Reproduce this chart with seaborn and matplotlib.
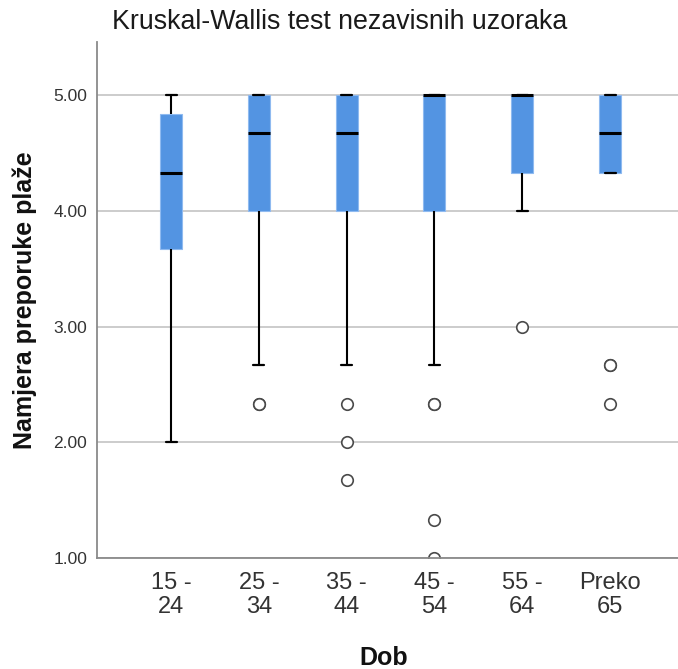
import matplotlib
matplotlib.use("Agg")
import matplotlib.pyplot as plt
import pandas as pd
import seaborn as sns

# Age groups (x categories) and the scale scores
age_groups = ["15 -\n24", "25 -\n34", "35 -\n44", "45 -\n54", "55 -\n64", "Preko\n65"]

dob_15_24 = [2.00, 3.67, 3.67, 4.33, 4.67, 5.00, 5.00]
dob_25_34 = [2.33, 2.33, 2.67, 4.00, 4.00, 4.33, 4.67, 4.67,
             5.00, 5.00, 5.00, 5.00, 5.00]
dob_35_44 = [1.67, 2.00, 2.33, 2.67, 4.00, 4.00, 4.33, 4.67, 4.67,
             5.00, 5.00, 5.00, 5.00, 5.00, 5.00, 5.00, 5.00]
dob_45_54 = [1.00, 1.33, 2.33, 2.33, 2.67, 4.00, 4.00, 4.33, 4.67, 4.67,
             5.00, 5.00, 5.00, 5.00, 5.00, 5.00, 5.00, 5.00, 5.00, 5.00, 5.00]
dob_55_64 = [3.00, 4.00, 4.33, 4.67, 5.00, 5.00, 5.00, 5.00, 5.00]
preko_65 = [2.33, 2.67, 2.67, 4.33, 4.33, 4.67, 4.67,
            5.00, 5.00, 5.00, 5.00, 5.00, 5.00]

y_ticks = [1, 2, 3, 4, 5]

groups = [dob_15_24, dob_25_34, dob_35_44, dob_45_54, dob_55_64, preko_65]
df = pd.DataFrame({
    "Dob": [g for g, vals in zip(age_groups, groups) for _ in vals],
    "Namjera": [v for vals in groups for v in vals],
})

sns.set_style("white")
plt.rcParams["font.family"] = ["Liberation Sans", "DejaVu Sans"]

fig = plt.figure(figsize=(6.78, 6.69), dpi=100)
ax = fig.add_axes([97 / 678, 1 - 558 / 669, 1 - 97 / 678, (558 - 42) / 669])

box_color = "#5394E2"
sns.boxplot(
    data=df, x="Dob", y="Namjera", order=age_groups, ax=ax,
    color=box_color, saturation=1, width=0.25, whis=1.5,
    boxprops=dict(facecolor=box_color, edgecolor="#8fbaf0", linewidth=0.8),
    medianprops=dict(color="black", linewidth=2.2),
    whiskerprops=dict(color="black", linewidth=1.5),
    capprops=dict(color="black", linewidth=1.6),
    flierprops=dict(marker="o", markerfacecolor="white",
                    markeredgecolor="#4a4a4a", markersize=8.3,
                    markeredgewidth=1.2),
)

ax.set_xlim(-0.843, 5.774)
ax.set_ylim(1.0, 5.458)
ax.set_yticks(y_ticks)
ax.set_yticklabels(["{:.2f}".format(t) for t in y_ticks])
ax.yaxis.grid(True, color="#c8c8c8", linewidth=1.3)
ax.set_axisbelow(True)

for side in ["top", "right"]:
    ax.spines[side].set_visible(False)
for side in ["left", "bottom"]:
    ax.spines[side].set_color("#8a8a8a")
    ax.spines[side].set_linewidth(1.3)

ax.tick_params(axis="y", direction="in", length=3, color="#8a8a8a",
               pad=7, labelsize=12.5, labelcolor="#333333")
ax.tick_params(axis="x", length=0, pad=10, labelsize=17, labelcolor="#333333")
for lbl in ax.get_xticklabels():
    lbl.set_linespacing(1.1)

ax.set_xlabel("")
ax.set_ylabel("")
fig.text(340 / 678, 1 - 22 / 669, "Kruskal-Wallis test nezavisnih uzoraka",
         ha="center", va="center", fontsize=19.3, color="#1a1a1a")
fig.text(25 / 678, 1 - 300 / 669, "Namjera preporuke plaže", rotation=90,
         ha="center", va="center", fontsize=18, fontweight="bold", color="#111111")
fig.text(384 / 678, 1 - 658 / 669, "Dob", ha="center", va="center",
         fontsize=18, fontweight="bold", color="#111111")

fig.savefig("out.png", dpi=100)
